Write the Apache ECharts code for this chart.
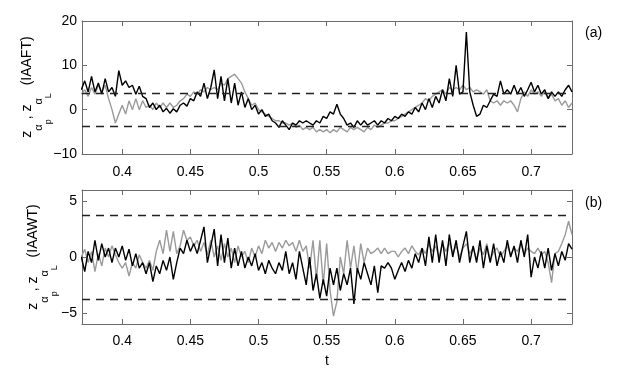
<!DOCTYPE html>
<html>
<head>
<meta charset="utf-8">
<script src="https://cdn.jsdelivr.net/npm/echarts@6/dist/echarts.min.js"></script>
<style>html,body{margin:0;padding:0;background:#fff}#chart{width:632px;height:373px}</style>
</head>
<body>
<div id="chart"></div>
<script>
// sample times: t0 + i*dt
var t0 = 0.37, dt = 0.0025;

// (a) IAAFT
var iaaftP = [4.5,6.5,4,7.5,4,6,3.5,7,4,5, 3,8.8,5.5,6.5,5,5.5,3.5,5.3,3,2.5,
  0.5,1.5,0,1,-0.5,0.3,-0.8,0.2,-0.5,1, 1.5,0.8,2.5,2,4,3,6,2.5,5,9,
  2.5,7.5,2,7,1.5,6,1,4,0.5,2.5, 0,1,-1,0,-1.5,-1,-2.5,-3,-4,-2.5,
  -3.5,-4.5,-3,-3.5,-2.5,-3,-2.5,-3,-3.5,-2.5, -3,-1.5,-2,-0.5,-1,1.2,-1,-2,-3.5,-3,
  -4,-2.5,-3.5,-2.5,-3.5,-3,-2.5,-3.5,-2.5,-3, -2,-2.5,-1.5,-2,-1,-1.5,-0.5,-1,0.5,-0.5,
  1.5,0,2.5,0.5,3,1.5,4.5,2,7,3, 10,3.5,4,17.5,4,1,-1.5,-1,1,0.5,
  2,3.5,3,6.5,3.5,4.5,3.5,5.5,3.5,5, 3,4.5,6.2,4,5.5,3.5,4.5,2.5,4,3,
  4,3,4.5,5.5,4];
var iaaftL = [3.5,4.5,3,5,3.5,5.5,4,5.5,2.5,0, -3,-1,1,-1,2,0,2.5,0,2,0.5,
  1,0,1.5,0.5,1.5,0.5,1.5,0.5,1,2, 2.5,3.5,3,4,3.5,4.5,4,5,4.5,5,
  4.5,6,5.5,7,7.5,8,7,6,4,2.5, 1,1.5,0,-0.5,-1,-1.5,-2,-2.5,-2.5,-3,
  -3,-3.5,-3,-4,-3.5,-4.5,-4,-4.5,-4,-5, -4.5,-5,-4.5,-5.2,-4.5,-5,-4,-4.5,-5,-4,
  -4.5,-4,-4.5,-5,-4,-4.5,-3.5,-4,-3.5,-3, -3,-2.5,-2.5,-2,-1.5,-1,-0.5,0,0.5,1,
  1.5,2.5,2,3,3.5,4,4.5,3.5,5,4.5, 5,4.5,5.5,4.5,5,4,4.5,4,3.5,4.5,
  2,1.5,2,1,2,1.5,2,1,-0.5,2.5, 4,3,4.5,3.5,4,3,4,2.5,3.5,2,
  2.5,1,2,0.5,1.5];

// (b) IAAWT
var iaawtP = [0,-1.3,0.5,-0.5,1.5,-0.3,1.2,0,0.8,-0.5, 0.8,0,1,-0.3,0.7,-0.8,0.3,-1,-0.5,-1.5,
  -0.5,-2.2,-0.8,-1.5,-0.3,-1.2,0,-2,-0.5,0.8, 0.3,1.5,0.5,1.2,0.3,1.5,2.7,-0.5,1,2.5,
  -0.8,2,-0.5,1.7,-1,0.8,-0.8,0.5,-1,0, -0.8,0.3,-1.2,-0.5,-1.5,-0.3,-1,-1.5,-0.5,-1.2,
  0.5,-1.5,-0.5,-2,0.5,-1,-2.5,0,-3,-1.5, -3.7,-2,-3.5,-1,-2.5,-1,-3,-1.5,-2.5,-1,
  -4.2,-1,-2,-0.5,-1.5,-2.5,-0.8,-3.2,-0.8,-1, -0.5,-1,-2,-1.2,-0.5,-1.3,-0.3,-1,0.3,-0.5,
  0.8,-0.8,1.8,-0.5,2,-0.5,1.5,-0.8,2,0, 1.5,-0.5,1,2.3,-0.5,1,-0.5,1.5,-1,1,
  -0.5,1.2,-0.8,0.5,-0.5,1.5,0,1,-0.5,1.5, 0,2,-1.8,0,-1,0.5,-1,0.8,-1.2,0.3,
  -0.8,0.5,-0.3,1.2,0.7];
var iaawtL = [0,0.7,-0.5,0.5,-1.3,0.3,-0.8,0.8,0,1, 0.2,-0.5,-1,-0.5,-1.7,-0.5,-1,0.2,-0.5,-1,
  -0.3,-1.2,0.5,1.5,0.3,2.4,0.5,2.3,0.3,1, 2.4,1.5,1.8,1,1.5,0.5,1.3,0.2,1.5,0,
  1,-0.3,1.2,0,0.8,-0.5,1,0,0.5,-0.5, 0.8,0,1,0.3,1.5,0.8,1.3,0.5,1.3,0.8,
  1.5,1,1.3,0.5,1.5,0.5,1,-1,1.5,-2, 1.5,-2.5,1.2,-3,-5.3,-4,0,-1.5,1.5,-1,
  1,-1.5,1.2,-0.5,0.8,0.3,0.5,0.8,0.3,0.8, 0.3,0.5,0.5,0,0.5,0.8,0.3,1,0.5,0.2,
  0.8,0.3,1.2,0.5,1,0,1.2,0.5,1.3,0.3, 1,0,0.8,1.2,0.3,0.8,-0.2,0.8,0.2,1.2,
  -0.3,0.5,0.8,0,0.5,1,0.2,0.8,0.5,1.2, 0.3,0.8,0.5,0.3,0.8,0.2,0.5,-0.5,-2.3,0.3,
  0.5,1.2,2,3.2,2];

var xTicks = [0.4, 0.45, 0.5, 0.55, 0.6, 0.65, 0.7];
var yTicksA = [-10, 0, 10, 20];
var yTicksB = [-5, 0, 5];
var levelA = 3.75, levelB = 3.75;
var xMin = 0.3705, xMax = 0.73;

var chart = echarts.init(document.getElementById('chart'));
var FONT = 'Liberation Sans';
var BOX = '#6b6b6b';

function pairs(v) {
    return v.map(function (y, i) { return [t0 + i * dt, y]; });
}
function minus(v) {
    return v < 0 ? '\u2212' + (-v) : String(v);
}

function xAx(grid, pos, labels, margin) {
    return {
        type: 'value', gridIndex: grid, position: pos, min: xMin, max: xMax,
        axisLine: {show: true, onZero: false, lineStyle: {color: BOX, width: 1}},
        axisTick: {show: true, inside: true, length: 5, customValues: xTicks, lineStyle: {color: BOX}},
        axisLabel: {show: labels, customValues: xTicks, color: '#000', fontSize: 14, fontFamily: FONT, margin: margin || 10,
            formatter: function (v) { return String(+v.toFixed(2)); }},
        splitLine: {show: false}
    };
}
function yAx(grid, pos, labels, min, max, ticks) {
    return {
        type: 'value', gridIndex: grid, position: pos, min: min, max: max,
        axisLine: {show: true, onZero: false, lineStyle: {color: BOX, width: 1}},
        axisTick: {show: true, inside: true, length: 5, customValues: ticks, lineStyle: {color: BOX}},
        axisLabel: {show: labels, customValues: ticks, color: '#000', fontSize: 14, fontFamily: FONT, margin: 5,
            formatter: minus},
        splitLine: {show: false}
    };
}

var dash = {type: [8, 6], color: '#222', width: 1.3};
function levels(v) {
    return {
        silent: true, symbol: ['none', 'none'], label: {show: false}, lineStyle: dash,
        emphasis: {disabled: true}, animation: false,
        data: [{yAxis: v}, {yAxis: -v}]
    };
}
function line(name, data, xi, yi, color, ml) {
    var s = {
        name: name, type: 'line', xAxisIndex: xi, yAxisIndex: yi, data: pairs(data),
        showSymbol: false, symbol: 'none', animation: false,
        lineStyle: {color: color, width: 1.4}, itemStyle: {color: color}
    };
    if (ml) s.markLine = ml;
    return s;
}

var yRich = {
    z: {fontSize: 14, fontFamily: FONT, color: '#000', verticalAlign: 'bottom', padding: [0, 0, 19, 0]},
    a: {fontSize: 11, fontFamily: FONT, color: '#000', verticalAlign: 'bottom', padding: [0, 0, 9, 0]},
    s: {fontSize: 9, fontFamily: FONT, color: '#000', verticalAlign: 'bottom', padding: [0, 0, 0, 0]}
};
function yLabel(x, y, tag) {
    return {
        type: 'text', x: x, y: y, rotation: Math.PI / 2,
        style: {
            text: '{z|z}{a|\u03b1}{s|p}{z|, z}{a|\u03b1}{s|L}{z|  (' + tag + ')}',
            rich: yRich, align: 'center', verticalAlign: 'middle'
        }
    };
}

chart.setOption({
    backgroundColor: '#fff',
    animation: false,
    grid: [
        {left: 82, top: 21, width: 490, height: 133},
        {left: 82, top: 190, width: 490, height: 134}
    ],
    xAxis: [
        xAx(0, 'bottom', true, 11), xAx(0, 'top', false),
        Object.assign(xAx(1, 'bottom', true, 10), {name: 't', nameLocation: 'middle', nameGap: 30,
            nameTextStyle: {color: '#000', fontSize: 14, fontFamily: FONT}}),
        xAx(1, 'top', false)
    ],
    yAxis: [
        yAx(0, 'left', true, -10, 20, yTicksA), yAx(0, 'right', false, -10, 20, yTicksA),
        yAx(1, 'left', true, -6, 6, yTicksB), yAx(1, 'right', false, -6, 6, yTicksB)
    ],
    series: [
        line('L (IAAFT)', iaaftL, 0, 0, '#9a9a9a', levels(levelA)),
        line('p (IAAFT)', iaaftP, 0, 0, '#000'),
        line('L (IAAWT)', iaawtL, 2, 2, '#9a9a9a', levels(levelB)),
        line('p (IAAWT)', iaawtP, 2, 2, '#000')
    ],
    graphic: [
        yLabel(37, 87, 'IAAFT'),
        yLabel(43, 257, 'IAAWT'),
        {type: 'text', x: 585, y: 26, style: {text: '(a)', fontSize: 14, fontFamily: FONT, fill: '#000'}},
        {type: 'text', x: 585, y: 196, style: {text: '(b)', fontSize: 14, fontFamily: FONT, fill: '#000'}}
    ]
});
</script>
</body>
</html>
